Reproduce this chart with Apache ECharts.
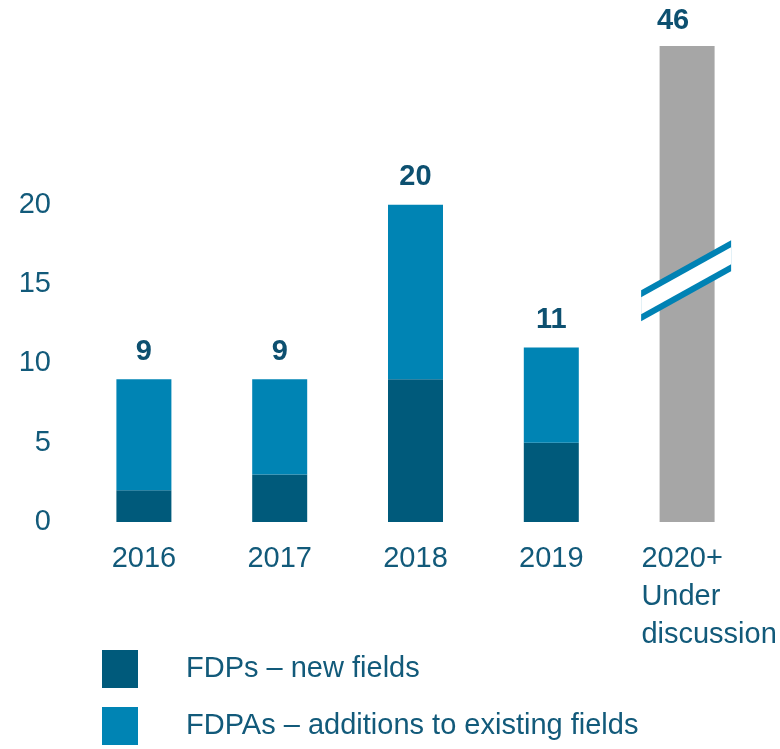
<!DOCTYPE html>
<html lang="en">
<head>
    <meta charset="UTF-8">
    <title>FDP / FDPA</title>
    <script src="https://cdn.jsdelivr.net/npm/echarts@6/dist/echarts.min.js"></script>
    <style>
        html, body { margin: 0; padding: 0; background: #fff; }
        #main { width: 780px; height: 749px; }
    </style>
</head>
<body>
    <div id="main"></div>
    <script type="text/javascript">
        // data
        var categories = ['2016', '2017', '2018', '2019', '2020+\nUnder\ndiscussion'];
        var newFields = [2, 3, 9, 5, '-'];
        var additions = [7, 6, 11, 6, '-'];
        var totals = [9, 9, 20, 11, 46];
        // 2020+ bar is drawn cut (axis break), so its drawn height is shorter than 46
        var discussionDrawn = ['-', '-', '-', '-', 30];
        var breakMark = [[4, 15.2]];

        var textColor = '#125a7a';
        var font = 'Liberation Sans, Arial, sans-serif';

        var chart = echarts.init(document.getElementById('main'));
        var option = {
            animation: false,
            grid: { left: 76, right: 25, top: 46, bottom: 227 },
            legend: {
                orient: 'vertical',
                left: 102,
                top: 650,
                padding: 0,
                itemWidth: 36,
                itemHeight: 38,
                itemGap: 19,
                icon: 'rect',
                data: ['FDPs – new fields', 'FDPAs – additions to existing fields'],
                textStyle: { color: textColor, fontSize: 29, fontFamily: font, padding: [10, 0, 0, 43] }
            },
            xAxis: {
                type: 'category',
                data: categories,
                axisLine: { show: false },
                axisTick: { show: false },
                axisLabel: {
                    color: textColor, fontSize: 29, fontFamily: font, lineHeight: 38, margin: 18, interval: 0,
                    formatter: function (v) {
                        if (v.indexOf('\n') < 0) return v;
                        return v.split('\n').map(function (s) { return '{l|' + s + '}'; }).join('\n');
                    },
                    rich: {
                        l: { align: 'left', color: textColor, fontSize: 29, fontFamily: font, lineHeight: 38, padding: [0, 0, 0, 44] }
                    }
                }
            },
            yAxis: {
                type: 'value',
                min: 0,
                max: 30,
                interval: 5,
                splitLine: { show: false },
                axisLine: { show: false },
                axisLabel: {
                    color: textColor, fontSize: 29, fontFamily: font, margin: 25, padding: [5, 0, 0, 0],
                    formatter: function (v) { return v > 20 ? '' : v; }
                }
            },
            series: [
                {
                    name: 'FDPs – new fields',
                    type: 'bar',
                    stack: 'total',
                    barWidth: 55,
                    data: newFields,
                    itemStyle: { color: '#005a7b' }
                },
                {
                    name: 'FDPAs – additions to existing fields',
                    type: 'bar',
                    stack: 'total',
                    barWidth: 55,
                    data: additions,
                    itemStyle: { color: '#0084b4' },
                    label: {
                        show: true,
                        position: 'top',
                        distance: 13,
                        color: '#0d5070',
                        fontWeight: 'bold',
                        fontSize: 29,
                        fontFamily: font,
                        formatter: function (p) { return totals[p.dataIndex]; }
                    }
                },
                {
                    name: 'Under discussion',
                    type: 'bar',
                    stack: 'total',
                    barWidth: 55,
                    data: discussionDrawn,
                    itemStyle: { color: '#a6a6a6' },
                    label: {
                        show: true,
                        position: 'top',
                        distance: 13,
                        offset: [-14, 2],
                        color: '#0d5070',
                        fontWeight: 'bold',
                        fontSize: 29,
                        fontFamily: font,
                        formatter: function (p) { return totals[p.dataIndex]; }
                    }
                },
                {
                    // break marks across the 2020+ bar
                    type: 'custom',
                    silent: true,
                    z: 10,
                    data: breakMark,
                    renderItem: function (params, api) {
                        var c = api.coord([api.value(0), api.value(1)]);
                        var x = c[0] - 1, y = c[1];
                        var hw = 45, s = 25, outer = 15.5, inner = 8.5;
                        function band(g) {
                            return [[x - hw, y + s - g], [x + hw, y - s - g], [x + hw, y - s + g], [x - hw, y + s + g]];
                        }
                        return {
                            type: 'group',
                            children: [
                                { type: 'polygon', shape: { points: band(outer) }, style: { fill: '#0082b4' } },
                                { type: 'polygon', shape: { points: band(inner) }, style: { fill: '#ffffff' } }
                            ]
                        };
                    }
                }
            ]
        };
        chart.setOption(option);
    </script>
</body>
</html>
